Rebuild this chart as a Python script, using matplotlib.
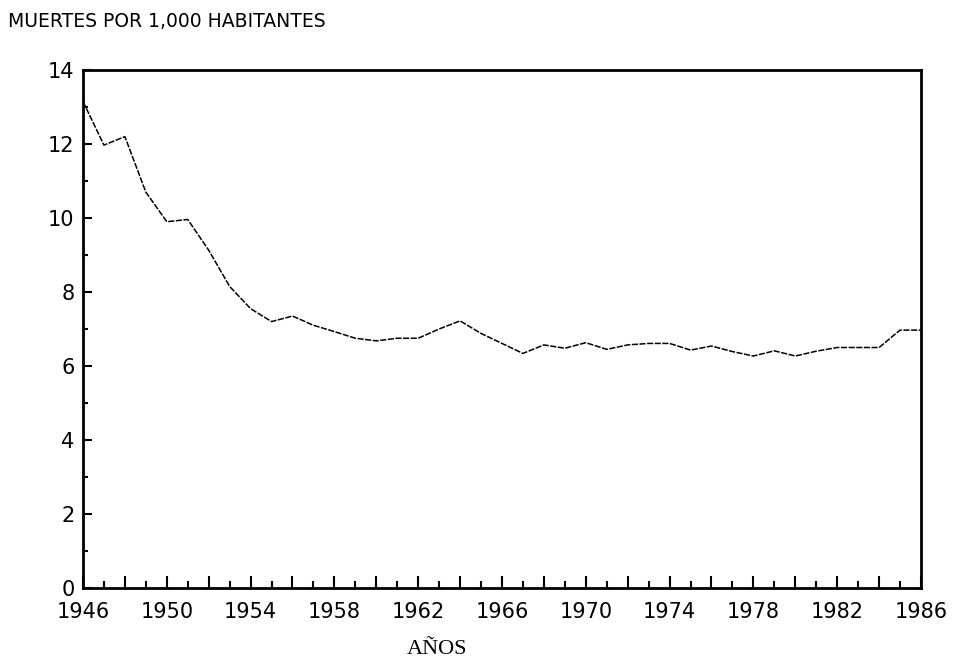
import numpy as np
import matplotlib
matplotlib.use('Agg')
import matplotlib.pyplot as plt
from matplotlib.ticker import MultipleLocator, FuncFormatter

years = list(range(1946, 1987))
tasa = [13.15, 11.97, 12.2, 10.7, 9.9, 9.96, 9.13, 8.15, 7.55, 7.2,
        7.35, 7.1, 6.93, 6.75, 6.68, 6.75, 6.75, 7.0, 7.22, 6.88,
        6.61, 6.34, 6.57, 6.48, 6.63, 6.45, 6.57, 6.61, 6.61, 6.43,
        6.54, 6.39, 6.27, 6.41, 6.27, 6.4, 6.5, 6.5, 6.5, 6.97,
        6.97]

titulo = 'MUERTES POR 1,000 HABITANTES'
xlabel = 'AÑOS'

fig = plt.figure(figsize=(9.55, 6.58), dpi=100)
ax = fig.add_axes([0.0869, 0.1064, 0.8775, 0.7872])

ax.plot(years, tasa, color='black', linewidth=1.1, linestyle=(0, (4, 1)))

ax.set_xlim(1946, 1986)
ax.set_ylim(0, 14)

ax.xaxis.set_major_locator(MultipleLocator(2))
ax.xaxis.set_minor_locator(MultipleLocator(1))
ax.xaxis.set_major_formatter(FuncFormatter(lambda v, p: f'{int(v)}' if (int(v) - 1946) % 4 == 0 else ''))
ax.yaxis.set_major_locator(MultipleLocator(2))
ax.yaxis.set_minor_locator(MultipleLocator(1))

ax.tick_params(axis='x', which='major', direction='in', length=9, width=1.5, labelsize=15, pad=10)
ax.tick_params(axis='x', which='minor', direction='in', length=5, width=1.5)
ax.tick_params(axis='y', which='major', direction='in', length=6.5, width=1.5, labelsize=15, pad=6)
ax.tick_params(axis='y', which='minor', direction='in', length=3.6, width=1.5)

for s in ax.spines.values():
    s.set_linewidth(2)
    s.set_color('black')

fig.text(0.008, 0.968, titulo, fontsize=13.5, ha='left', va='center', family='DejaVu Sans')
fig.text(437 / 955, 0.013, xlabel, fontsize=16, ha='center', va='center', family='Liberation Serif')

fig.savefig('out.png', dpi=100)
